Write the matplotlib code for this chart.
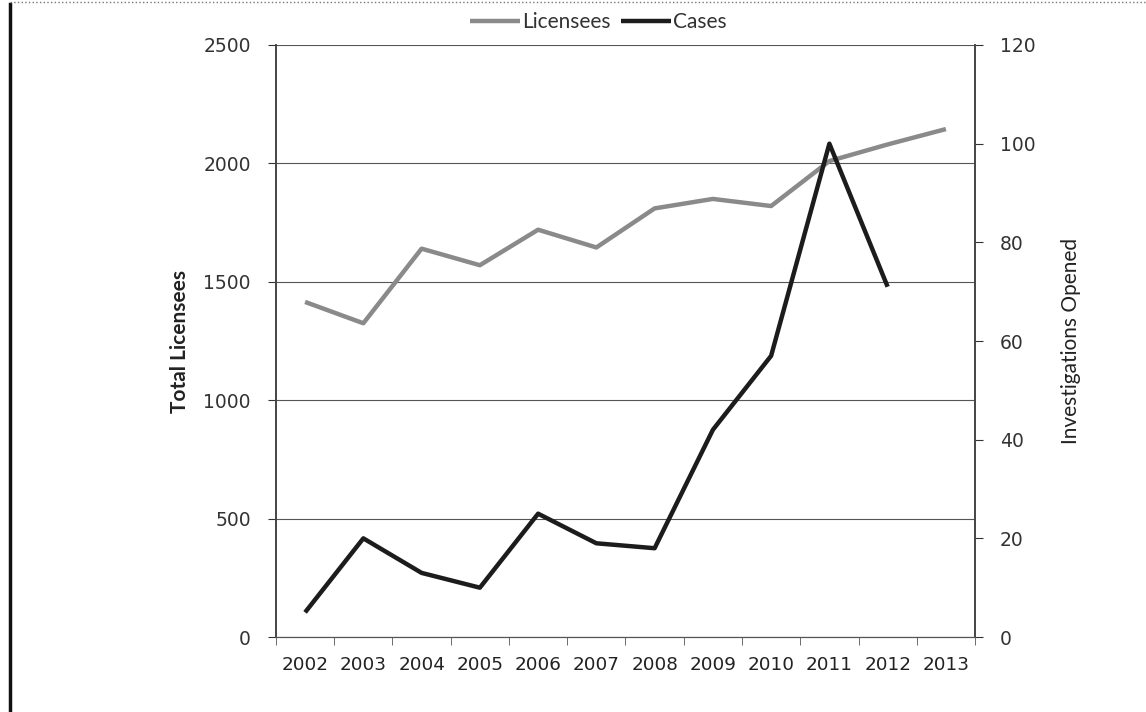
import numpy as np
import matplotlib.pyplot as plt
from matplotlib.lines import Line2D


years = ['2002', '2003', '2004', '2005', '2006', '2007',
         '2008', '2009', '2010', '2011', '2012', '2013']
licensees = [1415, 1325, 1640, 1570, 1720, 1645,
             1810, 1850, 1820, 2010, 2080, 2145]
cases = [5, 20, 13, 10, 25, 19, 18, 42, 57, 100, 71]   # no 2013 value

plt.rcParams['font.family'] = ['DejaVu Sans']

fig = plt.figure(figsize=(11.46, 7.12), dpi=100)
ax = fig.add_axes([0.2408, 0.1053, 0.61, 0.8315])
ax2 = ax.twinx()

x = np.arange(len(years))
l1, = ax.plot(x, licensees, color='#8a8a8a', lw=3.2, solid_capstyle='butt')
l2, = ax2.plot(x[:len(cases)], cases, color='#1c1c1c', lw=3.2, solid_capstyle='butt')

# left axis
ax.set_ylim(0, 2500)
ax.set_yticks(np.arange(0, 2501, 500))
ax.set_xlim(-0.5, len(years) - 0.5)
ax.set_xticks(x)
ax.set_xticklabels(years)
ax.set_xticks(np.arange(-0.5, len(years)), minor=True)
ax.tick_params(axis='x', which='major', length=0, pad=14, labelsize=13.2, colors='#222222')
ax.tick_params(axis='x', which='minor', length=6, direction='out', color='#555555')
ax.tick_params(axis='y', length=6, direction='out', labelsize=13.5, colors='#333333', pad=12)
ax.grid(axis='y', color='#555555', lw=0.8)
ax.set_axisbelow(True)
ax.set_ylabel('Total Licensees', family='Lato', fontsize=15, fontweight='bold',
              color='#222222', labelpad=10)

# right axis
ax2.set_ylim(0, 120)
ax2.set_yticks(np.arange(0, 121, 20))
ax2.tick_params(axis='y', length=6, direction='out', labelsize=13.5, colors='#333333', pad=12)
ax2.set_ylabel('Investigations Opened', family='Lato', fontsize=15,
               color='#222222', labelpad=18, rotation=90)

for a in (ax, ax2):
    a.spines['top'].set_visible(False)
    a.spines['left'].set_color('#444444')
    a.spines['right'].set_color('#444444')
    a.spines['bottom'].set_color('#555555')
    a.spines['left'].set_linewidth(1.2)
    a.spines['right'].set_linewidth(1.2)

leg = fig.legend([l1, l2], ['Licensees', 'Cases'], loc='center',
                 bbox_to_anchor=(598 / 1146, 1 - 22 / 712), ncol=2, frameon=False,
                 prop={'family': 'Lato', 'size': 15}, handlelength=2.4,
                 handletextpad=0.1, columnspacing=0.5)
for t in leg.get_texts():
    t.set_color('#333333')

# scanned page edges
fig.add_artist(Line2D([0.009, 0.009], [0.0, 0.995], color='#111111', lw=2.5))
fig.add_artist(Line2D([0.009, 1.0], [0.997, 0.997], color='#777777', lw=1, ls=':'))

fig.savefig('out.png', dpi=100)
